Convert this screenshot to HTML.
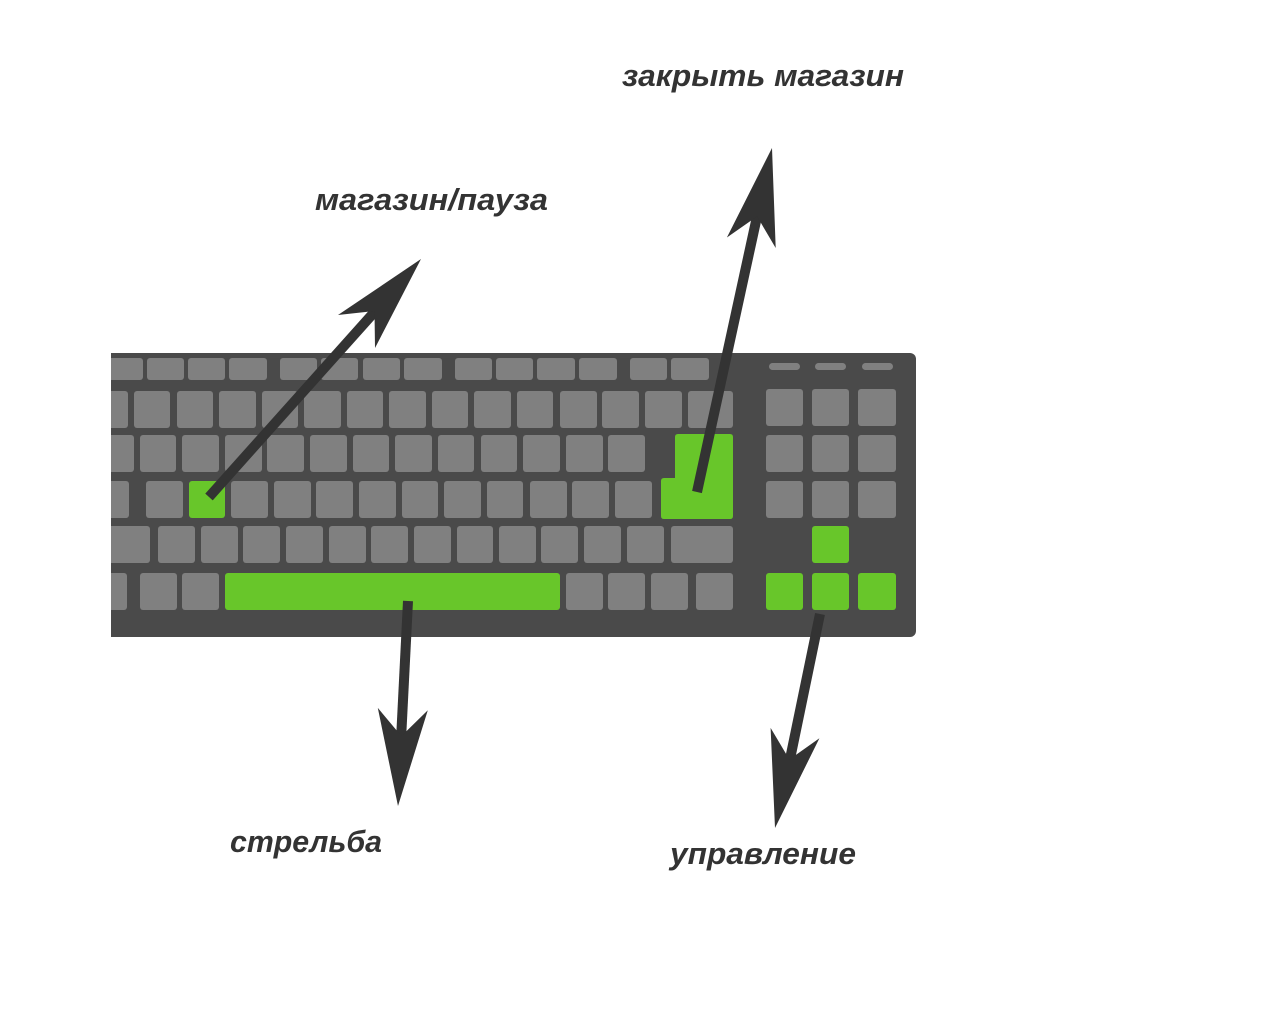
<!DOCTYPE html>
<html><head><meta charset="utf-8"><style>
html,body{margin:0;padding:0;background:#fff;width:1280px;height:1024px;overflow:hidden}
</style></head><body>
<svg width="1280" height="1024" xmlns="http://www.w3.org/2000/svg">
<rect x="100" y="353" width="816" height="284" rx="6" fill="#4a4a4a"/>
<rect x="0" y="340" width="111" height="310" fill="#fff"/>
<g fill="#808080">
<!-- row0 -->
<rect x="105" y="358" width="38" height="22" rx="3"/><rect x="147" y="358" width="37" height="22" rx="3"/><rect x="188" y="358" width="37" height="22" rx="3"/><rect x="229" y="358" width="38" height="22" rx="3"/>
<rect x="280" y="358" width="37" height="22" rx="3"/><rect x="321" y="358" width="37" height="22" rx="3"/><rect x="363" y="358" width="37" height="22" rx="3"/><rect x="404" y="358" width="38" height="22" rx="3"/>
<rect x="455" y="358" width="37" height="22" rx="3"/><rect x="496" y="358" width="37" height="22" rx="3"/><rect x="537" y="358" width="38" height="22" rx="3"/><rect x="579" y="358" width="38" height="22" rx="3"/>
<rect x="630" y="358" width="37" height="22" rx="3"/><rect x="671" y="358" width="38" height="22" rx="3"/>
<!-- row1 -->
<rect x="105" y="391" width="23" height="37" rx="3"/><rect x="134" y="391" width="36" height="37" rx="3"/><rect x="177" y="391" width="36" height="37" rx="3"/><rect x="219" y="391" width="37" height="37" rx="3"/><rect x="262" y="391" width="36" height="37" rx="3"/><rect x="304" y="391" width="37" height="37" rx="3"/><rect x="347" y="391" width="36" height="37" rx="3"/><rect x="389" y="391" width="37" height="37" rx="3"/><rect x="432" y="391" width="36" height="37" rx="3"/><rect x="474" y="391" width="37" height="37" rx="3"/><rect x="517" y="391" width="36" height="37" rx="3"/><rect x="560" y="391" width="37" height="37" rx="3"/><rect x="602" y="391" width="37" height="37" rx="3"/><rect x="645" y="391" width="37" height="37" rx="3"/><rect x="688" y="391" width="45" height="37" rx="3"/>
<!-- row2 -->
<rect x="105" y="435" width="29" height="37" rx="3"/><rect x="140" y="435" width="36" height="37" rx="3"/><rect x="182" y="435" width="37" height="37" rx="3"/><rect x="225" y="435" width="37" height="37" rx="3"/><rect x="267" y="435" width="37" height="37" rx="3"/><rect x="310" y="435" width="37" height="37" rx="3"/><rect x="353" y="435" width="36" height="37" rx="3"/><rect x="395" y="435" width="37" height="37" rx="3"/><rect x="438" y="435" width="36" height="37" rx="3"/><rect x="481" y="435" width="36" height="37" rx="3"/><rect x="523" y="435" width="37" height="37" rx="3"/><rect x="566" y="435" width="37" height="37" rx="3"/><rect x="608" y="435" width="37" height="37" rx="3"/>
<!-- row3 -->
<rect x="105" y="481" width="24" height="37" rx="3"/><rect x="146" y="481" width="37" height="37" rx="3"/><rect x="231" y="481" width="37" height="37" rx="3"/><rect x="274" y="481" width="37" height="37" rx="3"/><rect x="316" y="481" width="37" height="37" rx="3"/><rect x="359" y="481" width="37" height="37" rx="3"/><rect x="402" y="481" width="36" height="37" rx="3"/><rect x="444" y="481" width="37" height="37" rx="3"/><rect x="487" y="481" width="36" height="37" rx="3"/><rect x="530" y="481" width="37" height="37" rx="3"/><rect x="572" y="481" width="37" height="37" rx="3"/><rect x="615" y="481" width="37" height="37" rx="3"/>
<!-- row4 -->
<rect x="105" y="526" width="45" height="37" rx="3"/><rect x="158" y="526" width="37" height="37" rx="3"/><rect x="201" y="526" width="37" height="37" rx="3"/><rect x="243" y="526" width="37" height="37" rx="3"/><rect x="286" y="526" width="37" height="37" rx="3"/><rect x="329" y="526" width="37" height="37" rx="3"/><rect x="371" y="526" width="37" height="37" rx="3"/><rect x="414" y="526" width="37" height="37" rx="3"/><rect x="457" y="526" width="36" height="37" rx="3"/><rect x="499" y="526" width="37" height="37" rx="3"/><rect x="541" y="526" width="37" height="37" rx="3"/><rect x="584" y="526" width="37" height="37" rx="3"/><rect x="627" y="526" width="37" height="37" rx="3"/><rect x="671" y="526" width="62" height="37" rx="3"/>
<!-- row5 -->
<rect x="105" y="573" width="22" height="37" rx="3"/><rect x="140" y="573" width="37" height="37" rx="3"/><rect x="182" y="573" width="37" height="37" rx="3"/><rect x="566" y="573" width="37" height="37" rx="3"/><rect x="608" y="573" width="37" height="37" rx="3"/><rect x="651" y="573" width="37" height="37" rx="3"/><rect x="696" y="573" width="37" height="37" rx="3"/>
<!-- numpad -->
<rect x="766" y="389" width="37" height="37" rx="3"/><rect x="812" y="389" width="37" height="37" rx="3"/><rect x="858" y="389" width="38" height="37" rx="3"/>
<rect x="766" y="435" width="37" height="37" rx="3"/><rect x="812" y="435" width="37" height="37" rx="3"/><rect x="858" y="435" width="38" height="37" rx="3"/>
<rect x="766" y="481" width="37" height="37" rx="3"/><rect x="812" y="481" width="37" height="37" rx="3"/><rect x="858" y="481" width="38" height="37" rx="3"/>
<rect x="769" y="363" width="31" height="7" rx="3.5"/><rect x="815" y="363" width="31" height="7" rx="3.5"/><rect x="862" y="363" width="31" height="7" rx="3.5"/>
</g>
<rect x="0" y="340" width="111" height="310" fill="#fff"/>
<g fill="#68c62a">
<rect x="189" y="481" width="36" height="37" rx="3"/>
<rect x="225" y="573" width="335" height="37" rx="3"/>
<path d="M678 434 H730 Q733 434 733 437 V516 Q733 519 730 519 H664 Q661 519 661 516 V481 Q661 478 664 478 H675 V437 Q675 434 678 434Z"/>
<rect x="812" y="526" width="37" height="37" rx="3"/>
<rect x="766" y="573" width="37" height="37" rx="3"/><rect x="812" y="573" width="37" height="37" rx="3"/><rect x="858" y="573" width="38" height="37" rx="3"/>
</g>
<g stroke="#333" stroke-width="10" stroke-linecap="butt">
<line x1="209" y1="497" x2="378" y2="308"/>
<line x1="697" y1="492" x2="758" y2="212"/>
<line x1="408" y1="601" x2="401" y2="740"/>
<line x1="820" y1="614" x2="789" y2="764"/>
</g>
<g fill="#333">
<polygon points="421,259 375,348 374.5,311 338,315"/>
<polygon points="772,148 775.7,248 757.1,216.4 726.9,237.5"/>
<polygon points="398,806 427.8,710.3 401.4,736.1 377.8,707.9"/>
<polygon points="775,828 819.4,738.3 789.4,759.5 770.6,727.9"/>
</g>
<g font-family="Liberation Sans, DejaVu Sans, sans-serif" font-weight="bold" font-style="italic" font-size="31" fill="#333">
<text x="622" y="86" textLength="282" lengthAdjust="spacingAndGlyphs">закрыть магазин</text>
<text x="315" y="210" textLength="233" lengthAdjust="spacingAndGlyphs">магазин/пауза</text>
<text x="230" y="852" textLength="152" lengthAdjust="spacingAndGlyphs">стрельба</text>
<text x="670" y="864" textLength="186" lengthAdjust="spacingAndGlyphs">управление</text>
</g>
</svg>
</body></html>
